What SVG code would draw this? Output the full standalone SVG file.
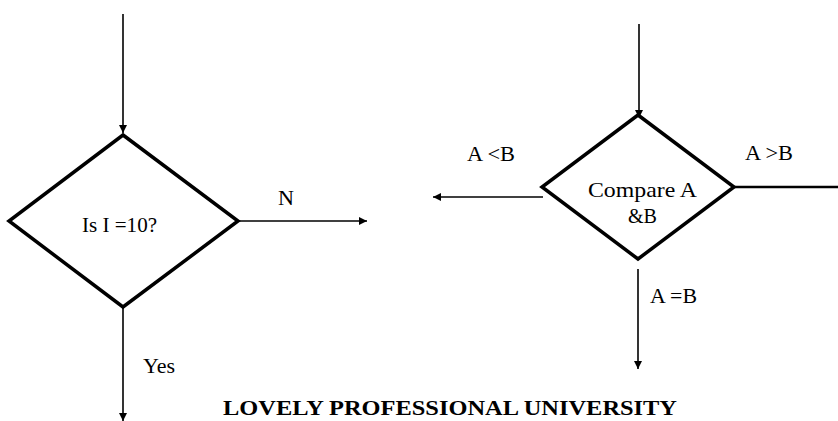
<svg xmlns="http://www.w3.org/2000/svg" width="838" height="421" viewBox="0 0 838 421">
<style>
.d{fill:#fff;stroke:#000;stroke-width:3.5;stroke-linejoin:miter}
.c{stroke:#000;stroke-width:1.6;fill:none}
.t{font-family:"Liberation Serif","Times New Roman",serif;font-size:21px;fill:#000}
.h{font-family:"Liberation Serif","Times New Roman",serif;font-size:22px;font-weight:bold;fill:#000}
</style>
<defs>
<marker id="ah" markerWidth="10" markerHeight="10" refX="8" refY="4" orient="auto" markerUnits="userSpaceOnUse">
<path d="M0,0 L8,4 L0,8 Z" fill="#000"/>
</marker>
</defs>
<g id="connectors">
<line class="c" x1="123" y1="14" x2="123" y2="133" marker-end="url(#ah)"/>
<line class="c" x1="238" y1="221" x2="367" y2="221" marker-end="url(#ah)"/>
<line class="c" x1="123" y1="307" x2="123" y2="421" marker-end="url(#ah)"/>
<line class="c" x1="639" y1="24" x2="639" y2="118" marker-end="url(#ah)"/>
<line class="c" x1="543" y1="197" x2="433" y2="197" marker-end="url(#ah)"/>
<line class="c" x1="734" y1="187" x2="838" y2="187" style="stroke-width:2.5"/>
<line class="c" x1="638" y1="269" x2="638" y2="369" marker-end="url(#ah)"/>
</g>
<g id="decision1">
<polygon class="d" points="123,135 238,221 123,307 9,221"/>
<text class="t" x="82" y="232" textLength="75" lengthAdjust="spacingAndGlyphs">Is I =10?</text>
</g>
<g id="decision2">
<polygon class="d" points="638,115 734,187 638,259 542,187"/>
<text class="t" x="588" y="197" textLength="109" lengthAdjust="spacingAndGlyphs">Compare A</text>
<text class="t" x="628" y="223" textLength="29" lengthAdjust="spacingAndGlyphs">&amp;B</text>
</g>
<g id="labels">
<text class="t" x="278" y="205" textLength="16" lengthAdjust="spacingAndGlyphs">N</text>
<text class="t" x="143" y="373" textLength="32" lengthAdjust="spacingAndGlyphs">Yes</text>
<text class="t" x="467" y="161" textLength="48" lengthAdjust="spacingAndGlyphs">A &lt;B</text>
<text class="t" x="745" y="160" textLength="48" lengthAdjust="spacingAndGlyphs">A &gt;B</text>
<text class="t" x="650" y="303" textLength="47" lengthAdjust="spacingAndGlyphs">A =B</text>
<text class="h" x="223" y="415" textLength="454" lengthAdjust="spacingAndGlyphs">LOVELY PROFESSIONAL UNIVERSITY</text>
</g>
</svg>
